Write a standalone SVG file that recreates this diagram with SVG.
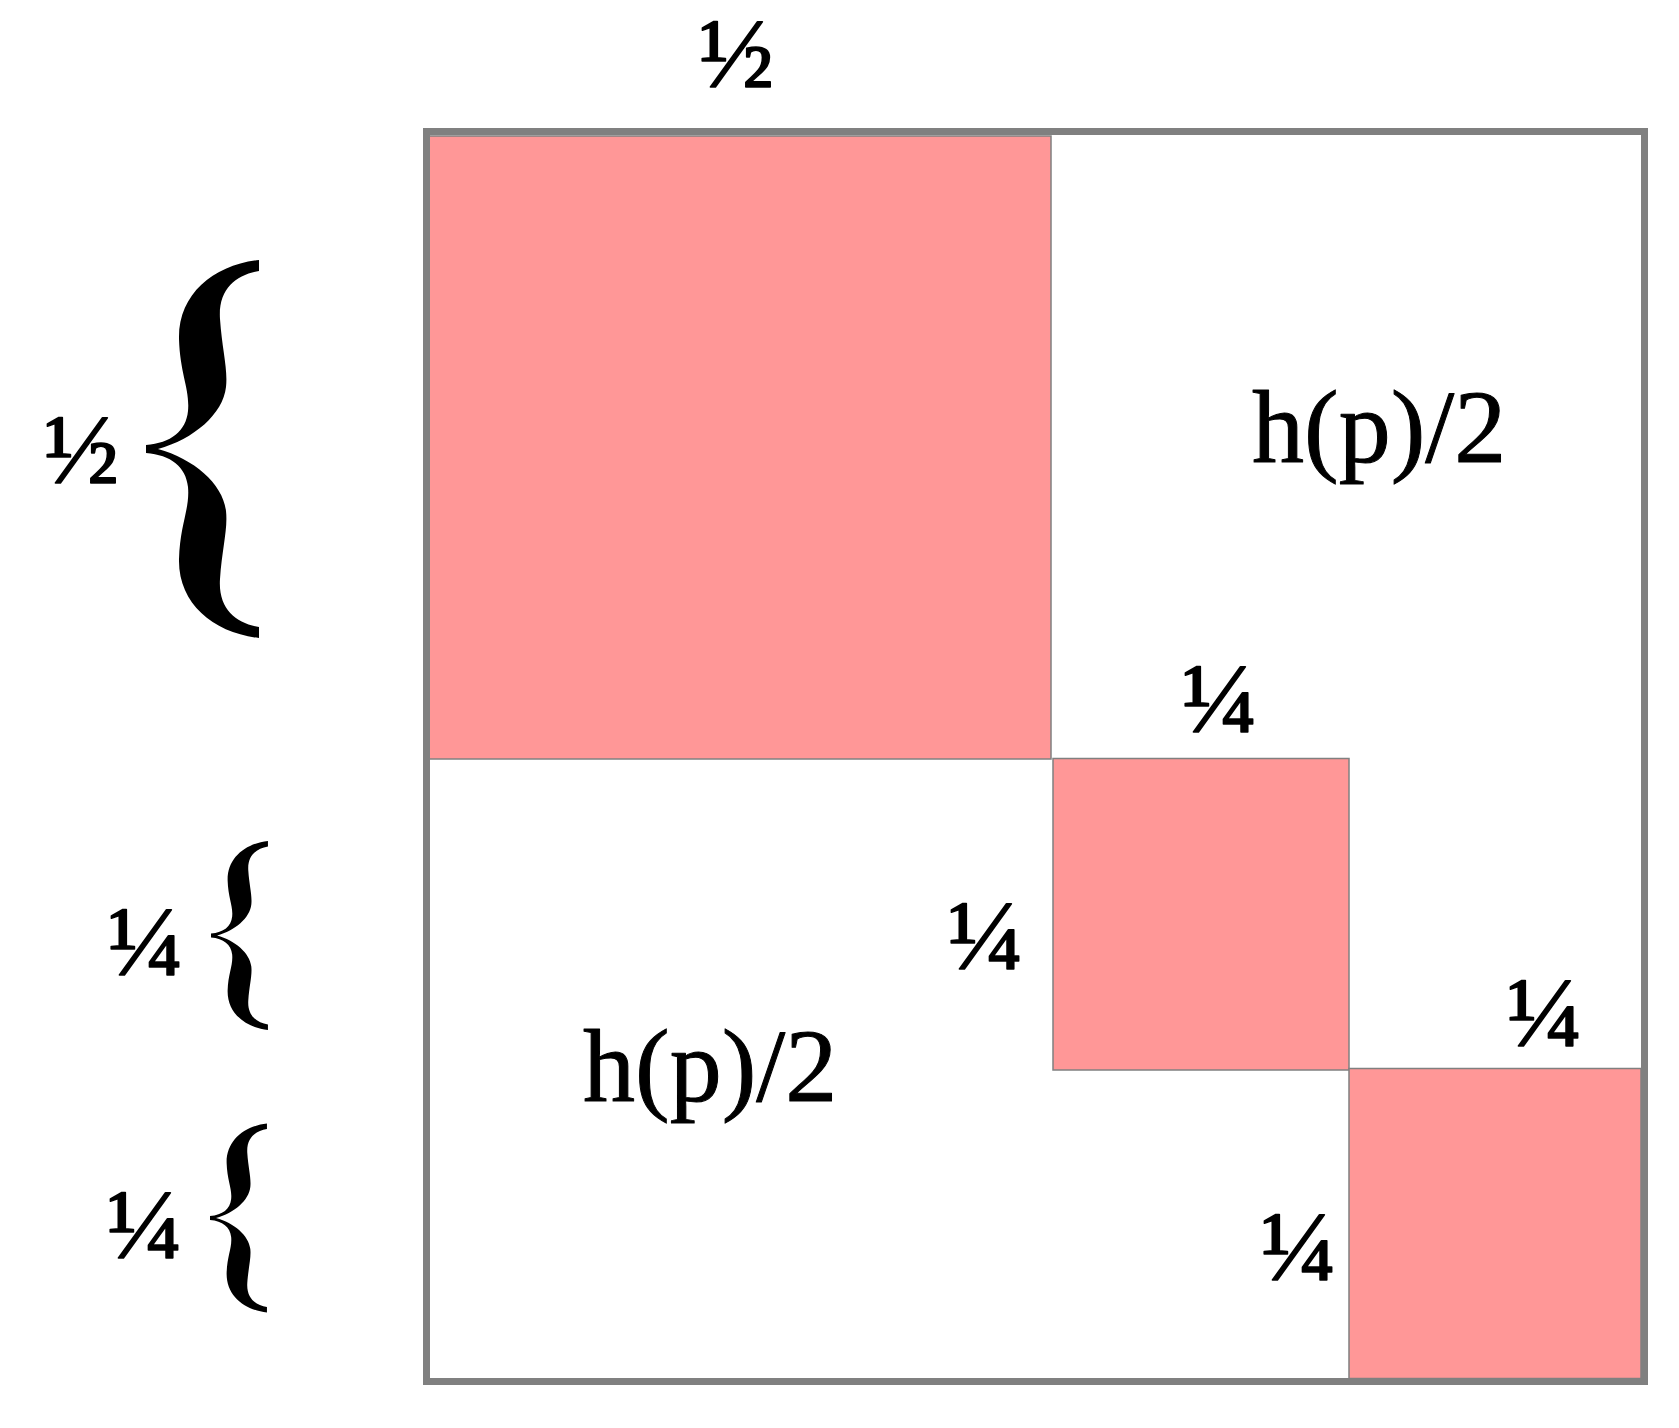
<svg xmlns="http://www.w3.org/2000/svg" width="1679" height="1428" viewBox="0 0 1679 1428">
<style>
.blk{fill:#ff9797;stroke:#808080;stroke-width:1.5}
.frac{font-family:"Liberation Serif","Times New Roman",serif;font-size:100px;fill:#000;stroke:#000;stroke-width:1.6;stroke-linejoin:round}
.big{font-family:"Liberation Serif","Times New Roman",serif;font-size:104px;fill:#000;stroke:#000;stroke-width:1;stroke-linejoin:round}
.brace{fill:#000}
</style>
<defs>
<path id="brace" d="M113,-189 C68,-184 32,-155 33,-110 C34,-75 44,-60 42,-38 C40,-18 25,-6 0,-4 L0,4 C25,6 40,18 42,38 C44,60 34,75 33,110 C32,155 68,184 113,189 L113,178 C90,174 72,160 74,130 C76,100 82,80 80,62 C77,35 48,10 12,0 C48,-10 77,-35 80,-62 C82,-80 76,-100 74,-130 C72,-160 90,-174 113,-178 Z"/>
</defs>
<rect width="1679" height="1428" fill="#fff"/>
<g id="matrix">
<rect id="outer" x="426.5" y="131.5" width="1218" height="1250" fill="#fff" stroke="#808080" stroke-width="7"/>
<rect id="block1" class="blk" x="429" y="136" width="622" height="623"/>
<rect id="block2" class="blk" x="1053" y="758.5" width="296" height="311.5"/>
<rect id="block3" class="blk" x="1349" y="1068.5" width="292" height="310"/>
<rect x="426.5" y="131.5" width="1218" height="1250" fill="none" stroke="#808080" stroke-width="7"/>
</g>
<g id="labels">
<text class="big" x="1252" y="462">h(p)/2</text>
<text class="big" x="583" y="1101">h(p)/2</text>
<text class="frac" x="699" y="87">½</text>
<text class="frac" x="44" y="483">½</text>
<text class="frac" x="1182" y="732">¼</text>
<text class="frac" x="948" y="969">¼</text>
<text class="frac" x="1507" y="1046">¼</text>
<text class="frac" x="1261" y="1280">¼</text>
<text class="frac" x="108" y="975">¼</text>
<text class="frac" x="107" y="1258">¼</text>
</g>
<g id="braces">
<use href="#brace" class="brace" transform="translate(146,449)"/>
<use href="#brace" class="brace" transform="translate(211,935.5) scale(0.504,0.5)"/>
<use href="#brace" class="brace" transform="translate(210,1218) scale(0.504,0.5)"/>
</g>
</svg>
